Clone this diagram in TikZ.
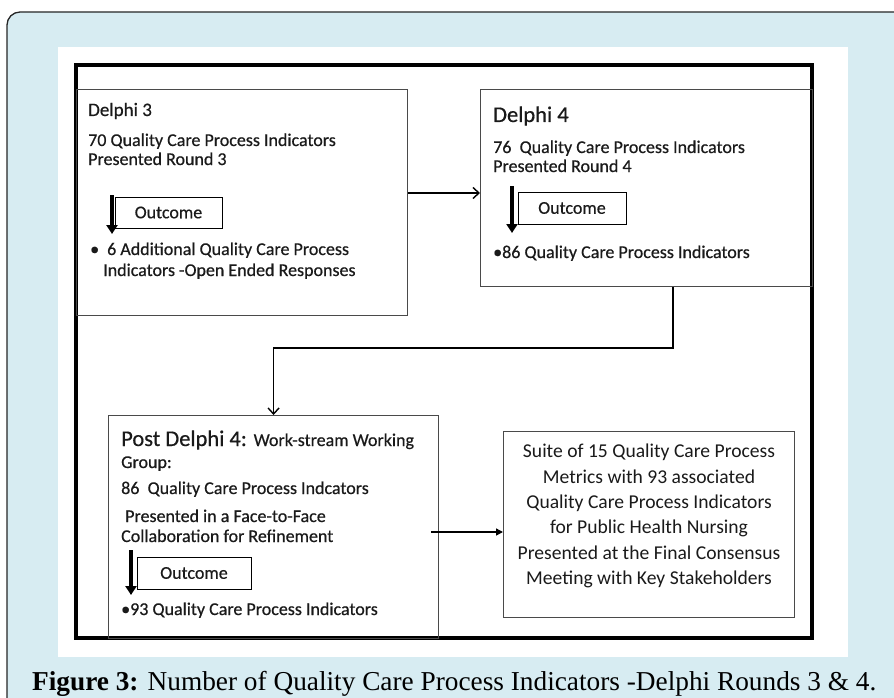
\documentclass[tikz,border=0pt]{standalone}
\usepackage{fontspec}
\setmainfont{Carlito}
\newfontfamily\shfont[FakeBold=0.5]{Carlito}
\newfontfamily\capfont{Liberation Serif}
\usetikzlibrary{arrows.meta,calc}
\definecolor{panelblue}{HTML}{D7ECF2}
\definecolor{txt}{HTML}{1A1A1A}
\definecolor{boxline}{HTML}{4A4A4A}
\tikzset{
  stagebox/.style={draw=boxline, line width=1.1pt, anchor=north west, inner sep=0pt},
  outbox/.style={draw=black, line width=1pt, fill=white, inner sep=0pt, font=\shfont\fontsize{18}{20}\selectfont, text=txt},
  body/.style={anchor=base west, inner sep=0pt, text=txt, font=\shfont\fontsize{18}{20}\selectfont},
  head/.style={anchor=base west, inner sep=0pt, text=txt, font=\shfont\fontsize{22.5}{26}\selectfont},
  thickarrow/.style={line width=4pt, -{Triangle[width=11pt,length=9pt]}},
  conn/.style={line width=1.4pt, -{Straight Barb[length=6pt,width=11pt]}},
  connfill/.style={line width=1.4pt, -{Triangle[length=7pt,width=7pt]}}
}
\begin{document}
\begin{tikzpicture}[x=1pt,y=-1pt]
\useasboundingbox (0,0) rectangle (894,698);
% outer panel
\draw[fill=panelblue, draw=black!85, line width=1.3pt, rounded corners=13pt] (7,12) rectangle (960,760);
% white area
\fill[white] (58,47) rectangle (848,657);
% thick frame
\draw[line width=4pt] (76,65) rectangle (812,638);

% stage boxes
\node[stagebox, minimum width=331pt, minimum height=226pt] (d3) at (76,89) {};
\node[stagebox, minimum width=332pt, minimum height=197pt] (d4) at (480,89) {};
\node[stagebox, minimum width=330pt, minimum height=223pt] (post) at (108,415) {};
\node[stagebox, minimum width=291pt, minimum height=186pt] (final) at (503,431) {};

% Delphi 3 content
\node[body, font=\shfont\fontsize{19}{21}\selectfont] (d3h) at (88,116) {Delphi 3};
\node[body] (d3t1) at (88,146) {70 Quality Care Process Indicators};
\node[body] (d3t2) at (88,165) {Presented Round 3};
\node[outbox, minimum width=107pt, minimum height=31pt] (d3o) at (168.5,212.5) {Outcome};
\coordinate (d3a) at (112,195);
\draw[thickarrow] (d3a) -- ++(0,39);
\node[body] (d3b) at (90,255) {\textbullet\hspace{8pt}6 Additional Quality Care Process};
\node[body] (d3c) at (103,276) {Indicators -Open Ended Responses};

% Delphi 4 content
\node[head] (d4h) at (493,122) {Delphi 4};
\node[body] (d4t1) at (493,153) {76\ \ Quality Care Process Indicators};
\node[body] (d4t2) at (493,172) {Presented Round 4};
\node[outbox, minimum width=108pt, minimum height=32pt] (d4o) at (572,208) {Outcome};
\coordinate (d4a) at (512,186);
\draw[thickarrow] (d4a) -- ++(0,47);
\node[body] (d4b) at (493,258) {\textbullet86 Quality Care Process Indicators};

% Post Delphi content
\node[head] (ph) at (121,446) {Post Delphi 4: {\fontsize{18}{20}\selectfont Work-stream Working}};
\node[body] (pg) at (121,468) {Group:};
\node[body] (pt) at (121,494) {86\ \ Quality Care Process Indcators};
\node[body] (pp) at (125,522) {Presented in a Face-to-Face};
\node[body] (pc) at (121,542) {Collaboration for Refinement};
\node[outbox, minimum width=114pt, minimum height=32pt] (po) at (194,573) {Outcome};
\coordinate (pa) at (131,550);
\draw[thickarrow] (pa) -- ++(0,45);
\node[body] (pb) at (121,615) {\textbullet93 Quality Care Process Indicators};

% Final box content
\node[align=center, text=txt, inner sep=0pt, font=\fontsize{19.6}{25.4}\selectfont] (ft) at (649,516) {Suite of 15 Quality Care Process\\Metrics with 93 associated\\Quality Care Process Indicators\\for Public Health Nursing\\Presented at the Final Consensus\\Meeting with Key Stakeholders};

% connectors
\coordinate (y1) at (0,193);
\draw[conn] (d3.east |- y1) -- (d4.west |- y1);
\coordinate (bend) at (673,348);
\draw[conn] (d4.south -| bend) -- (bend) -| (post.north);
\coordinate (y3) at (0,532);
\draw[connfill] ($(post.east |- y3)+(-8,0)$) -- (final.west |- y3);

% caption
\node[anchor=base west, inner sep=0pt, font=\capfont\fontsize{27.3}{30}\selectfont] (cap) at (32,690) {\textbf{Figure 3:} Number of Quality Care Process Indicators -Delphi Rounds 3 \& 4.};
\end{tikzpicture}
\end{document}
